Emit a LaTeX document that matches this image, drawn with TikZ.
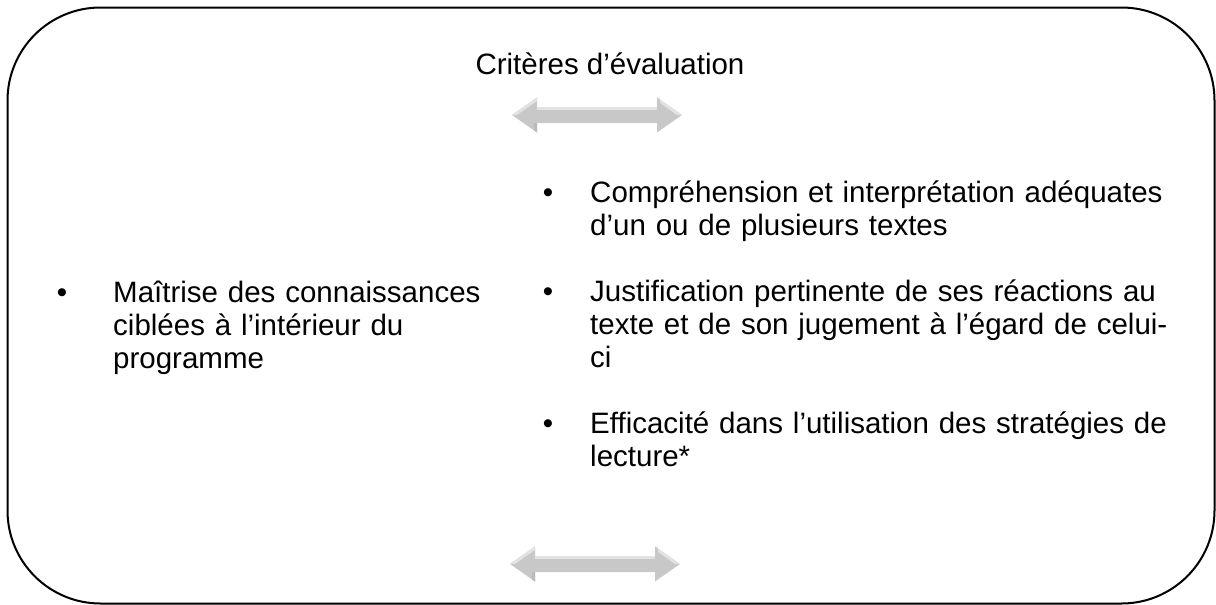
\documentclass[tikz,border=0pt]{standalone}
\usepackage{fontspec}
\setmainfont{Liberation Sans}
\definecolor{arrowgray}{RGB}{200,200,200}
\definecolor{arrowlight}{RGB}{226,226,226}
\definecolor{arrowdark}{RGB}{186,186,186}
\tikzset{
  frame/.style={draw=black, line width=2pt, rounded corners=93pt},
  bodytext/.style={font=\fontsize{29.5}{33}\selectfont, inner sep=0pt, text width=640pt, align=left, anchor=base west},
  bulletmark/.style={font=\fontsize{29.5}{33}\selectfont, inner sep=0pt, anchor=base},
  titletext/.style={font=\fontsize{29.5}{33}\selectfont, inner sep=0pt, anchor=base},
  dblarrow/.pic={
    \fill[arrowgray] (-85,0) -- (-60,-17.5) -- (-60,-8) -- (60,-8) -- (60,-17.5) -- (85,0)
      -- (60,17.5) -- (60,8) -- (-60,8) -- (-60,17.5) -- cycle;
    \fill[arrowlight] (-60,-8) rectangle (60,-5);
    \fill[arrowlight] (-85,0) -- (-60,-17.5) -- (-60,-14) -- (-80,0) -- cycle;
    \fill[arrowlight] (60,-17.5) -- (85,0) -- (80,0) -- (63,-12) -- (63,-17.5) -- cycle;
    \fill[arrowdark] (-60,8) -- (-60,17.5) -- (-63,15.5) -- (-63,8) -- cycle;
  }
}
\begin{document}
\begin{tikzpicture}[x=1pt,y=-1pt]
\useasboundingbox (0,0) rectangle (1216,605);
\fill[white] (0,0) rectangle (1216,605);
\draw[frame] (7.5,7.5) rectangle (1214.5,603.5);

\node[titletext] (title) at (610,74) {Critères d’évaluation};

\pic at (597,115) {dblarrow};
\pic at (595,564) {dblarrow};

\node[bulletmark] (b0) at (62,302) {•};
\node[bodytext] (left) at (113,302) {Maîtrise des connaissances\\ciblées à l’intérieur du\\programme};

\node[bulletmark] (b1) at (548,202) {•};
\node[bodytext] (r1) at (590,202) {Compréhension et interprétation adéquates\\d’un ou de plusieurs textes};

\node[bulletmark] (b2) at (548,301) {•};
\node[bodytext] (r2) at (590,301) {Justification pertinente de ses réactions au\\texte et de son jugement à l’égard de celui-\\ci};

\node[bulletmark] (b3) at (548,433) {•};
\node[bodytext] (r3) at (590,433) {Efficacité dans l’utilisation des stratégies de\\lecture*};
\end{tikzpicture}
\end{document}
